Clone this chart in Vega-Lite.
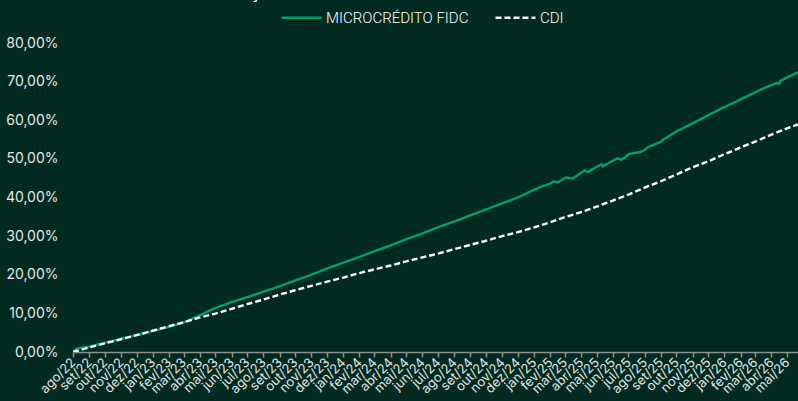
{
  "$schema": "https://vega.github.io/schema/vega-lite/v6.json",
  "width": 725,
  "height": 309,
  "autosize": {"type": "none"},
  "padding": {"left": 73, "top": 43, "right": 0, "bottom": 49},
  "background": "#012b20",
  "config": {"view": {"stroke": null}, "font": "Inter"},
  "title": {"text": "Evolução da Rentabilidade Acumulada (%)", "fontSize": 19, "fontWeight": "bold", "color": "#ffffff", "anchor": "middle", "frame": "bounds", "offset": -6, "dx": -8},
  "data": {"values": [
    {"data": "2022-08-01", "serie": "MICROCRÉDITO FIDC", "valor": 0},
    {"data": "2022-08-08", "serie": "MICROCRÉDITO FIDC", "valor": 0.9},
    {"data": "2022-09-01", "serie": "MICROCRÉDITO FIDC", "valor": 1.4},
    {"data": "2022-10-01", "serie": "MICROCRÉDITO FIDC", "valor": 2.4},
    {"data": "2022-11-01", "serie": "MICROCRÉDITO FIDC", "valor": 3.4},
    {"data": "2022-12-01", "serie": "MICROCRÉDITO FIDC", "valor": 4.4},
    {"data": "2023-01-01", "serie": "MICROCRÉDITO FIDC", "valor": 5.4},
    {"data": "2023-02-01", "serie": "MICROCRÉDITO FIDC", "valor": 6.5},
    {"data": "2023-03-01", "serie": "MICROCRÉDITO FIDC", "valor": 7.6},
    {"data": "2023-04-01", "serie": "MICROCRÉDITO FIDC", "valor": 9.5},
    {"data": "2023-05-01", "serie": "MICROCRÉDITO FIDC", "valor": 11.4},
    {"data": "2023-06-01", "serie": "MICROCRÉDITO FIDC", "valor": 12.9},
    {"data": "2023-07-01", "serie": "MICROCRÉDITO FIDC", "valor": 14.2},
    {"data": "2023-08-01", "serie": "MICROCRÉDITO FIDC", "valor": 15.6},
    {"data": "2023-09-01", "serie": "MICROCRÉDITO FIDC", "valor": 17.0},
    {"data": "2023-10-01", "serie": "MICROCRÉDITO FIDC", "valor": 18.5},
    {"data": "2023-11-01", "serie": "MICROCRÉDITO FIDC", "valor": 20.0},
    {"data": "2023-12-01", "serie": "MICROCRÉDITO FIDC", "valor": 21.6},
    {"data": "2024-01-01", "serie": "MICROCRÉDITO FIDC", "valor": 23.1},
    {"data": "2024-02-01", "serie": "MICROCRÉDITO FIDC", "valor": 24.6},
    {"data": "2024-03-01", "serie": "MICROCRÉDITO FIDC", "valor": 26.1},
    {"data": "2024-04-01", "serie": "MICROCRÉDITO FIDC", "valor": 27.6},
    {"data": "2024-05-01", "serie": "MICROCRÉDITO FIDC", "valor": 29.2},
    {"data": "2024-06-01", "serie": "MICROCRÉDITO FIDC", "valor": 30.7},
    {"data": "2024-07-01", "serie": "MICROCRÉDITO FIDC", "valor": 32.3},
    {"data": "2024-08-01", "serie": "MICROCRÉDITO FIDC", "valor": 33.8},
    {"data": "2024-09-01", "serie": "MICROCRÉDITO FIDC", "valor": 35.4},
    {"data": "2024-10-01", "serie": "MICROCRÉDITO FIDC", "valor": 36.9},
    {"data": "2024-11-01", "serie": "MICROCRÉDITO FIDC", "valor": 38.5},
    {"data": "2024-12-01", "serie": "MICROCRÉDITO FIDC", "valor": 40.0},
    {"data": "2025-01-01", "serie": "MICROCRÉDITO FIDC", "valor": 42.0},
    {"data": "2025-01-13", "serie": "MICROCRÉDITO FIDC", "valor": 42.7},
    {"data": "2025-02-01", "serie": "MICROCRÉDITO FIDC", "valor": 43.6},
    {"data": "2025-02-08", "serie": "MICROCRÉDITO FIDC", "valor": 44.2},
    {"data": "2025-02-15", "serie": "MICROCRÉDITO FIDC", "valor": 43.9},
    {"data": "2025-03-04", "serie": "MICROCRÉDITO FIDC", "valor": 45.2},
    {"data": "2025-03-16", "serie": "MICROCRÉDITO FIDC", "valor": 44.9},
    {"data": "2025-04-08", "serie": "MICROCRÉDITO FIDC", "valor": 47.0},
    {"data": "2025-04-14", "serie": "MICROCRÉDITO FIDC", "valor": 46.6},
    {"data": "2025-05-10", "serie": "MICROCRÉDITO FIDC", "valor": 48.6},
    {"data": "2025-05-13", "serie": "MICROCRÉDITO FIDC", "valor": 48.1},
    {"data": "2025-06-09", "serie": "MICROCRÉDITO FIDC", "valor": 50.1},
    {"data": "2025-06-18", "serie": "MICROCRÉDITO FIDC", "valor": 49.8},
    {"data": "2025-07-03", "serie": "MICROCRÉDITO FIDC", "valor": 51.3},
    {"data": "2025-07-22", "serie": "MICROCRÉDITO FIDC", "valor": 51.7},
    {"data": "2025-08-01", "serie": "MICROCRÉDITO FIDC", "valor": 52.3},
    {"data": "2025-08-08", "serie": "MICROCRÉDITO FIDC", "valor": 53.1},
    {"data": "2025-09-01", "serie": "MICROCRÉDITO FIDC", "valor": 54.4},
    {"data": "2025-09-06", "serie": "MICROCRÉDITO FIDC", "valor": 55.0},
    {"data": "2025-10-01", "serie": "MICROCRÉDITO FIDC", "valor": 57.1},
    {"data": "2025-11-01", "serie": "MICROCRÉDITO FIDC", "valor": 59.2},
    {"data": "2025-12-01", "serie": "MICROCRÉDITO FIDC", "valor": 61.3},
    {"data": "2025-12-11", "serie": "MICROCRÉDITO FIDC", "valor": 62.0},
    {"data": "2026-01-01", "serie": "MICROCRÉDITO FIDC", "valor": 63.4},
    {"data": "2026-02-01", "serie": "MICROCRÉDITO FIDC", "valor": 65.4},
    {"data": "2026-03-01", "serie": "MICROCRÉDITO FIDC", "valor": 67.2},
    {"data": "2026-03-16", "serie": "MICROCRÉDITO FIDC", "valor": 68.2},
    {"data": "2026-04-01", "serie": "MICROCRÉDITO FIDC", "valor": 69.1},
    {"data": "2026-04-12", "serie": "MICROCRÉDITO FIDC", "valor": 69.7},
    {"data": "2026-04-16", "serie": "MICROCRÉDITO FIDC", "valor": 69.4},
    {"data": "2026-04-19", "serie": "MICROCRÉDITO FIDC", "valor": 70.3},
    {"data": "2026-05-01", "serie": "MICROCRÉDITO FIDC", "valor": 71.1},
    {"data": "2026-05-22", "serie": "MICROCRÉDITO FIDC", "valor": 72.4},
    {"data": "2022-08-01", "serie": "CDI", "valor": 0},
    {"data": "2022-09-01", "serie": "CDI", "valor": 1.17},
    {"data": "2022-10-01", "serie": "CDI", "valor": 2.25},
    {"data": "2022-11-01", "serie": "CDI", "valor": 3.30},
    {"data": "2022-12-01", "serie": "CDI", "valor": 4.35},
    {"data": "2023-01-01", "serie": "CDI", "valor": 5.52},
    {"data": "2023-02-01", "serie": "CDI", "valor": 6.70},
    {"data": "2023-03-01", "serie": "CDI", "valor": 7.68},
    {"data": "2023-04-01", "serie": "CDI", "valor": 8.94},
    {"data": "2023-05-01", "serie": "CDI", "valor": 9.94},
    {"data": "2023-06-01", "serie": "CDI", "valor": 11.18},
    {"data": "2023-07-01", "serie": "CDI", "valor": 12.37},
    {"data": "2023-08-01", "serie": "CDI", "valor": 13.57},
    {"data": "2023-09-01", "serie": "CDI", "valor": 14.86},
    {"data": "2023-10-01", "serie": "CDI", "valor": 15.98},
    {"data": "2023-11-01", "serie": "CDI", "valor": 17.14},
    {"data": "2023-12-01", "serie": "CDI", "valor": 18.21},
    {"data": "2024-01-01", "serie": "CDI", "valor": 19.27},
    {"data": "2024-02-01", "serie": "CDI", "valor": 20.42},
    {"data": "2024-03-01", "serie": "CDI", "valor": 21.39},
    {"data": "2024-04-01", "serie": "CDI", "valor": 22.39},
    {"data": "2024-05-01", "serie": "CDI", "valor": 23.48},
    {"data": "2024-06-01", "serie": "CDI", "valor": 24.51},
    {"data": "2024-07-01", "serie": "CDI", "valor": 25.49},
    {"data": "2024-08-01", "serie": "CDI", "valor": 26.63},
    {"data": "2024-09-01", "serie": "CDI", "valor": 27.74},
    {"data": "2024-10-01", "serie": "CDI", "valor": 28.81},
    {"data": "2024-11-01", "serie": "CDI", "valor": 30.01},
    {"data": "2024-12-01", "serie": "CDI", "valor": 31.03},
    {"data": "2025-01-01", "serie": "CDI", "valor": 32.25},
    {"data": "2025-02-01", "serie": "CDI", "valor": 33.59},
    {"data": "2025-03-01", "serie": "CDI", "valor": 34.91},
    {"data": "2025-04-01", "serie": "CDI", "valor": 36.21},
    {"data": "2025-05-01", "serie": "CDI", "valor": 37.65},
    {"data": "2025-06-01", "serie": "CDI", "valor": 39.22},
    {"data": "2025-07-01", "serie": "CDI", "valor": 40.75},
    {"data": "2025-08-01", "serie": "CDI", "valor": 42.55},
    {"data": "2025-09-01", "serie": "CDI", "valor": 44.21},
    {"data": "2025-10-01", "serie": "CDI", "valor": 45.96},
    {"data": "2025-11-01", "serie": "CDI", "valor": 47.83},
    {"data": "2025-12-01", "serie": "CDI", "valor": 49.38},
    {"data": "2026-01-01", "serie": "CDI", "valor": 51.21},
    {"data": "2026-02-01", "serie": "CDI", "valor": 52.96},
    {"data": "2026-03-01", "serie": "CDI", "valor": 54.49},
    {"data": "2026-04-01", "serie": "CDI", "valor": 56.27},
    {"data": "2026-05-01", "serie": "CDI", "valor": 57.91},
    {"data": "2026-05-22", "serie": "CDI", "valor": 58.90}
  ]},
  "mark": {"type": "line", "strokeWidth": 2.4, "clip": true},
  "encoding": {
    "x": {
      "field": "data", "type": "temporal",
      "scale": {"type": "utc", "domain": [{"year": 2022, "month": 8, "date": 1, "utc": true}, {"year": 2026, "month": 5, "date": 22, "utc": true}]},
      "axis": {
        "title": null, "grid": false,
        "tickCount": {"interval": "month", "step": 1},
        "labelExpr": "['jan','fev','mar','abr','mai','jun','jul','ago','set','out','nov','dez'][utcmonth(datum.value)] + '/' + utcFormat(datum.value, '%y')",
        "labelAngle": -45, "labelAlign": "right", "labelBaseline": "middle",
        "labelFontSize": 13, "labelColor": "#e6e6e6", "labelOverlap": false,
        "labelPadding": 3, "labelBound": false, "labelFlush": false,
        "domainColor": "#8c918e", "domainWidth": 1.5, "tickColor": "#8c918e", "tickSize": 5, "tickWidth": 1.5
      }
    },
    "y": {
      "field": "valor", "type": "quantitative",
      "scale": {"domain": [0, 80]},
      "axis": {
        "title": null, "grid": false, "domain": false, "ticks": false,
        "values": [0, 10, 20, 30, 40, 50, 60, 70, 80],
        "labelExpr": "replace(format(datum.value, '.2f'), '.', ',') + '%'",
        "labelFontSize": 14, "labelColor": "#e6e6e6", "labelPadding": 15
      }
    },
    "color": {
      "field": "serie", "type": "nominal",
      "scale": {"domain": ["MICROCRÉDITO FIDC", "CDI"], "range": ["#009e74", "#ffffff"]},
      "legend": {"title": null, "orient": "none", "legendX": 207, "legendY": -47, "direction": "horizontal", "symbolType": "stroke", "symbolSize": 1600, "symbolStrokeWidth": 2.4, "labelColor": "#ffffff", "labelFontSize": 15, "labelFont": "Roboto", "labelFontWeight": 300, "labelOffset": 3, "columnPadding": 21}
    },
    "strokeDash": {
      "field": "serie", "type": "nominal",
      "scale": {"domain": ["MICROCRÉDITO FIDC", "CDI"], "range": [[1, 0], [6, 3]]},
      "legend": {"title": null, "orient": "none", "legendX": 207, "legendY": -47, "direction": "horizontal", "symbolType": "stroke", "symbolSize": 1600, "symbolStrokeWidth": 2.4, "labelColor": "#ffffff", "labelFontSize": 15, "labelFont": "Roboto", "labelFontWeight": 300, "labelOffset": 3, "columnPadding": 21}
    }
  }
}
